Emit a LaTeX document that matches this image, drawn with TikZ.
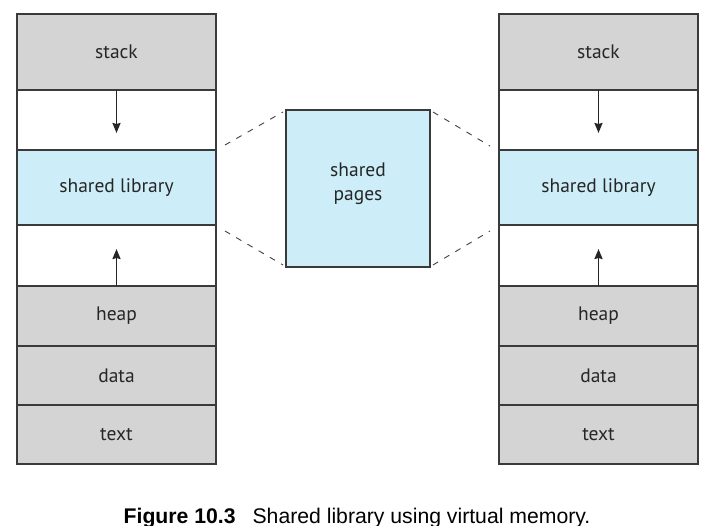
\documentclass[tikz,border=0pt]{standalone}
\usepackage{fontspec}
\setmainfont{PT Sans}
\newfontfamily\capfont{Liberation Sans}
\usetikzlibrary{calc,arrows.meta}
\definecolor{seggray}{HTML}{D4D4D4}
\definecolor{segblue}{HTML}{CDEEF9}
\definecolor{edge}{HTML}{3A3A3A}
\tikzset{
  seg/.style={draw=edge, line width=1.3pt, minimum width=199pt, inner sep=0pt, outer sep=0pt, font=\fontsize{19.5}{22}\selectfont, text=black!85},
  grayseg/.style={seg, fill=seggray},
  whiteseg/.style={seg, fill=white},
  blueseg/.style={seg, fill=segblue},
  growarrow/.style={-{Stealth[length=10pt,width=8pt,inset=1pt]}, line width=1.9pt, black!85},
  link/.style={dashed, dash pattern=on 6pt off 7pt, line width=0.9pt, black!75}
}
\begin{document}
\begin{tikzpicture}[x=1pt,y=-1pt]
\useasboundingbox (0,0) rectangle (709,526);
% left column
\node[grayseg, minimum height=76pt] (lstack) at (116.5,52) {stack};
\node[whiteseg, minimum height=60pt] (lgap1) at (116.5,120) {};
\node[blueseg, minimum height=75pt] (lshl) at (116.5,187.5) {shared library};
\node[whiteseg, minimum height=61pt] (lgap2) at (116.5,255.5) {};
\node[grayseg, minimum height=60pt] (lheap) at (116.5,316) {heap};
\node[grayseg, minimum height=59pt] (ldata) at (116.5,375.5) {data};
\node[grayseg, minimum height=59pt] (ltext) at (116.5,434.5) {text};
% right column
\node[grayseg, minimum height=76pt] (rstack) at (598.5,52) {stack};
\node[whiteseg, minimum height=60pt] (rgap1) at (598.5,120) {};
\node[blueseg, minimum height=75pt] (rshl) at (598.5,187.5) {shared library};
\node[whiteseg, minimum height=61pt] (rgap2) at (598.5,255.5) {};
\node[grayseg, minimum height=60pt] (rheap) at (598.5,316) {heap};
\node[grayseg, minimum height=59pt] (rdata) at (598.5,375.5) {data};
\node[grayseg, minimum height=59pt] (rtext) at (598.5,434.5) {text};
% middle
\node[blueseg, minimum width=144pt, minimum height=157pt] (mid) at (358,188.5) {};
\node[font=\fontsize{19.5}{24}\selectfont, text=black!85, align=center] (midlbl) at (358,184) {shared\\pages};
% arrows
\draw[growarrow] (lgap1.north) -- ++(0,43);
\draw[growarrow] (lgap2.south) -- ++(0,-37);
\draw[growarrow] (rgap1.north) -- ++(0,43);
\draw[growarrow] (rgap2.south) -- ++(0,-37);
% dashed links
\coordinate (a1) at ($(lshl.north east)+(9,-5)$);
\coordinate (a2) at ($(lshl.south east)+(9,6)$);
\coordinate (b1) at ($(rshl.north west)+(-9,-4)$);
\coordinate (b2) at ($(rshl.south west)+(-9,6)$);
\draw[link] (a1) -- ($(mid.north west)+(-3,2)$);
\draw[link] (a2) -- ($(mid.south west)+(-3,-2)$);
\draw[link] ($(mid.north east)+(3,2)$) -- (b1);
\draw[link] ($(mid.south east)+(3,-2)$) -- (b2);
% caption
\node[font=\capfont\fontsize{21.2}{24}\selectfont, anchor=base] (cap) at (357,523) {\textbf{Figure 10.3}\hspace{17pt}Shared library using virtual memory.};
\end{tikzpicture}
\end{document}
